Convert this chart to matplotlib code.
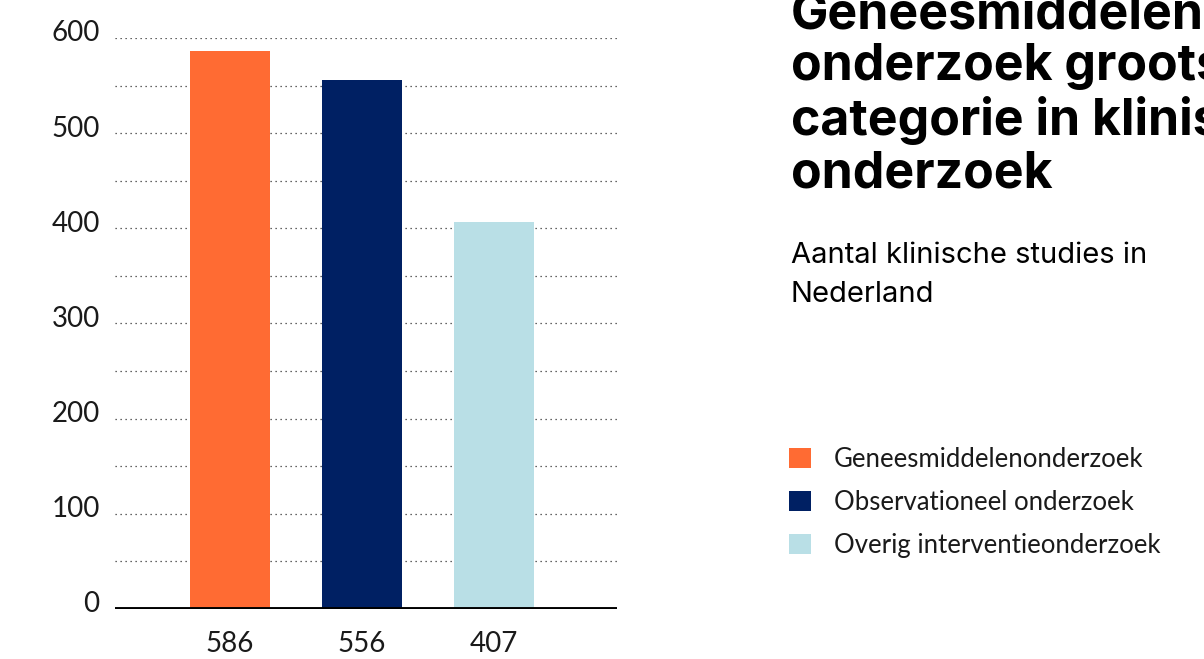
import matplotlib
matplotlib.use("Agg")
import matplotlib.pyplot as plt
import matplotlib.transforms as mtransforms
from matplotlib.patches import Patch

# data
categories = ["Geneesmiddelenonderzoek", "Observationeel onderzoek", "Overig interventieonderzoek"]
values = [586, 556, 407]
tick_labels = ["586", "556", "407"]
colors = ["#FF6B33", "#002063", "#B9DFE6"]
yticks = [0, 100, 200, 300, 400, 500, 600]

title = "Geneesmiddelen-\nonderzoek grootste\ncategorie in klinisch\nonderzoek"
subtitle = "Aantal klinische studies in\nNederland"

W, H = 1204, 659
fig = plt.figure(figsize=(W / 100, H / 100), dpi=100)

ax = fig.add_axes([115 / W, 50 / H, 502 / W, 571 / H])
x = range(len(values))
ax.bar(x, values, width=0.606, color=colors, zorder=2)
ax.set_xlim(-0.871, 2.932)
ax.set_ylim(0, 600)

# dotted grid every 50
for g in range(50, 601, 50):
    ax.axhline(g, color="#333333", linewidth=0.9, linestyle=(0, (1, 3)), zorder=1)
ax.axhline(0, color="black", linewidth=2.8, zorder=3)

ax.set_yticks(yticks)
ax.set_yticklabels([str(t) for t in yticks])
ax.set_xticks(list(x))
ax.set_xticklabels(tick_labels)
ax.tick_params(axis="y", length=0, pad=11, labelsize=20, labelcolor="#1a1a1a")
ax.tick_params(axis="x", length=0, pad=16, labelsize=20, labelcolor="#1a1a1a")
# y labels sit a little above their gridline in the source
shift = mtransforms.ScaledTranslation(0, 7 / 100, fig.dpi_scale_trans)
for lab in ax.get_yticklabels():
    lab.set_transform(lab.get_transform() + shift)
for lab in ax.get_xticklabels() + ax.get_yticklabels():
    lab.set_fontfamily("Lato")
for s in ax.spines.values():
    s.set_visible(False)

# title, clipped at the top like the source (baseline of last line)
fig.text(791 / W, 1 - 187 / H, title, ha="left", va="baseline",
         fontsize=36, fontweight="bold", family="Inter", linespacing=1.14, color="black")
fig.text(791 / W, 1 - 302 / H, subtitle, ha="left", va="baseline",
         fontsize=21, family="Inter", linespacing=1.55, color="black")

handles = [Patch(facecolor=c, edgecolor="none") for c in colors]
leg = fig.legend(handles, categories, loc="upper left", bbox_to_anchor=(789 / W, 1 - 447 / H),
                 frameon=False, fontsize=18.5, handlelength=0.85, handleheight=0.85,
                 handletextpad=0.9, labelspacing=0.7, borderaxespad=0, borderpad=0)
for t in leg.get_texts():
    t.set_fontfamily("Lato")
    t.set_color("#1a1a1a")

fig.savefig("out.png", dpi=100)
